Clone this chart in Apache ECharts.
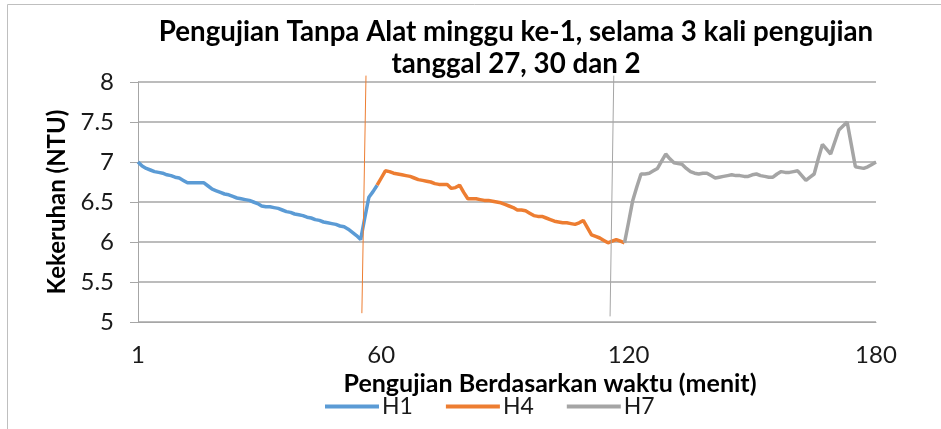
<!DOCTYPE html>
<html>
<head>
<meta charset="utf-8">
<script src="https://cdn.jsdelivr.net/npm/echarts@6/dist/echarts.min.js"></script>
<style>
  html, body { margin: 0; padding: 0; background: #fff; }
  #chart { width: 941px; height: 429px; }
</style>
</head>
<body>
<div id="chart"></div>
<script>
// menit pertama tiap pengujian
const startH1 = 1;
const startH4 = 59;
const startH7 = 119;

// kekeruhan (NTU) per menit
const h1 = [
  7.00, 6.95, 6.92, 6.90, 6.88, 6.87, 6.86, 6.84, 6.83, 6.81,
  6.80, 6.77, 6.74, 6.74, 6.74, 6.74, 6.74, 6.70, 6.66, 6.64,
  6.62, 6.60, 6.59, 6.57, 6.55, 6.54, 6.53, 6.52, 6.50, 6.48,
  6.45, 6.44, 6.44, 6.43, 6.42, 6.40, 6.38, 6.37, 6.35, 6.34,
  6.33, 6.31, 6.30, 6.28, 6.27, 6.25, 6.24, 6.23, 6.22, 6.20,
  6.19, 6.16, 6.12, 6.08, 6.03, 6.30, 6.56, 6.63, 6.71
];
const h4 = [
  6.71, 6.80, 6.89, 6.88, 6.86, 6.85, 6.84, 6.83, 6.82, 6.80,
  6.78, 6.77, 6.76, 6.75, 6.73, 6.72, 6.72, 6.72, 6.67, 6.68,
  6.71, 6.62, 6.54, 6.54, 6.54, 6.53, 6.52, 6.52, 6.51, 6.50,
  6.49, 6.47, 6.45, 6.43, 6.40, 6.40, 6.39, 6.36, 6.33, 6.32,
  6.32, 6.30, 6.28, 6.26, 6.25, 6.24, 6.24, 6.23, 6.22, 6.24,
  6.27, 6.18, 6.09, 6.07, 6.05, 6.02, 5.99, 6.01, 6.03, 6.01,
  5.99
];
const h7 = [
  5.99, 6.25, 6.52, 6.69, 6.85, 6.85, 6.86, 6.89, 6.92, 7.01,
  7.10, 7.04, 6.99, 6.98, 6.97, 6.92, 6.88, 6.86, 6.85, 6.86,
  6.86, 6.83, 6.80, 6.81, 6.82, 6.83, 6.84, 6.83, 6.83, 6.82,
  6.82, 6.84, 6.85, 6.83, 6.82, 6.81, 6.81, 6.85, 6.88, 6.87,
  6.87, 6.88, 6.89, 6.83, 6.77, 6.81, 6.85, 7.04, 7.22, 7.16,
  7.10, 7.25, 7.40, 7.45, 7.50, 7.22, 6.94, 6.93, 6.92, 6.94,
  6.97, 7.00
];

// garis pembatas antar pengujian (digambar manual di grafik asli)
const divider1 = [[56.3, 8.08], [55.3, 5.11]];
const divider2 = [[116.4, 8.08], [115.5, 5.07]];

const xTicks = [1, 60, 120, 180];

const toPairs = (start, arr) => arr.map((v, i) => [start + i, v]);

const font = 'Lato, "Open Sans", sans-serif';
const gridColor = '#a6a6a6';
const labelColor = '#1a1a1a';

const chart = echarts.init(document.getElementById('chart'));

const lineSeries = (name, start, arr, color) => ({
  name: name,
  type: 'line',
  data: toPairs(start, arr),
  symbol: 'none',
  lineStyle: { color: color, width: 3.5 },
  itemStyle: { color: color },
  animation: false
});

chart.setOption({
  animation: false,
  title: {
    text: 'Pengujian Tanpa Alat minggu ke-1, selama 3 kali pengujian\ntanggal 27, 30 dan 2',
    left: 511,
    textAlign: 'center',
    top: 11,
    textStyle: {
      fontFamily: font,
      fontWeight: 'bold',
      fontSize: 27.7,
      lineHeight: 32,
      color: '#000'
    }
  },
  graphic: [{
    type: 'rect',
    shape: { x: 7.5, y: 4.5, width: 1200, height: 1200 },
    style: { fill: 'none', stroke: '#bfbfbf', lineWidth: 1 },
    silent: true
  }],
  legend: {
    data: ['H1', 'H4', 'H7'],
    left: 320,
    top: 390,
    icon: 'rect',
    itemWidth: 54,
    itemHeight: 4,
    itemGap: 33,
    textStyle: { fontFamily: font, fontSize: 23, color: labelColor, padding: [0, 0, 0, -2] }
  },
  grid: { left: 138, right: 65, top: 82, bottom: 107, containLabel: false },
  xAxis: {
    type: 'value',
    min: 1,
    max: 180,
    name: 'Pengujian Berdasarkan waktu (menit)',
    nameLocation: 'middle',
    nameGap: 42,
    nameTextStyle: {
      fontFamily: font,
      fontWeight: 'bold',
      fontSize: 25,
      color: '#000',
      padding: [0, 0, 0, 86]
    },
    splitLine: { show: false },
    axisLine: { show: true, lineStyle: { color: gridColor, width: 1 } },
    axisTick: { show: false },
    axisLabel: {
      customValues: xTicks,
      fontFamily: font,
      fontSize: 24,
      color: labelColor,
      margin: 21
    }
  },
  yAxis: {
    type: 'value',
    min: 5,
    max: 8,
    interval: 0.5,
    name: 'Kekeruhan (NTU)',
    nameLocation: 'middle',
    nameGap: 48,
    nameTextStyle: {
      fontFamily: font,
      fontWeight: 'bold',
      fontSize: 24,
      color: '#000'
    },
    axisLine: { show: true, lineStyle: { color: gridColor, width: 1 } },
    axisTick: { show: true, length: 8, inside: false, lineStyle: { color: gridColor } },
    splitLine: { show: true, lineStyle: { color: gridColor, width: 1.5 } },
    axisLabel: {
      fontFamily: font,
      fontSize: 24,
      color: labelColor,
      margin: 24
    }
  },
  series: [
    lineSeries('H1', startH1, h1, '#5b9bd5'),
    lineSeries('H4', startH4, h4, '#ed7d31'),
    lineSeries('H7', startH7, h7, '#a5a5a5'),
    {
      name: 'batas1',
      type: 'line',
      data: divider1,
      symbol: 'none',
      clip: false,
      silent: true,
      lineStyle: { color: '#ed7d31', width: 1 }
    },
    {
      name: 'batas2',
      type: 'line',
      data: divider2,
      symbol: 'none',
      clip: false,
      silent: true,
      lineStyle: { color: '#a5a5a5', width: 1 }
    }
  ]
});
</script>
</body>
</html>
